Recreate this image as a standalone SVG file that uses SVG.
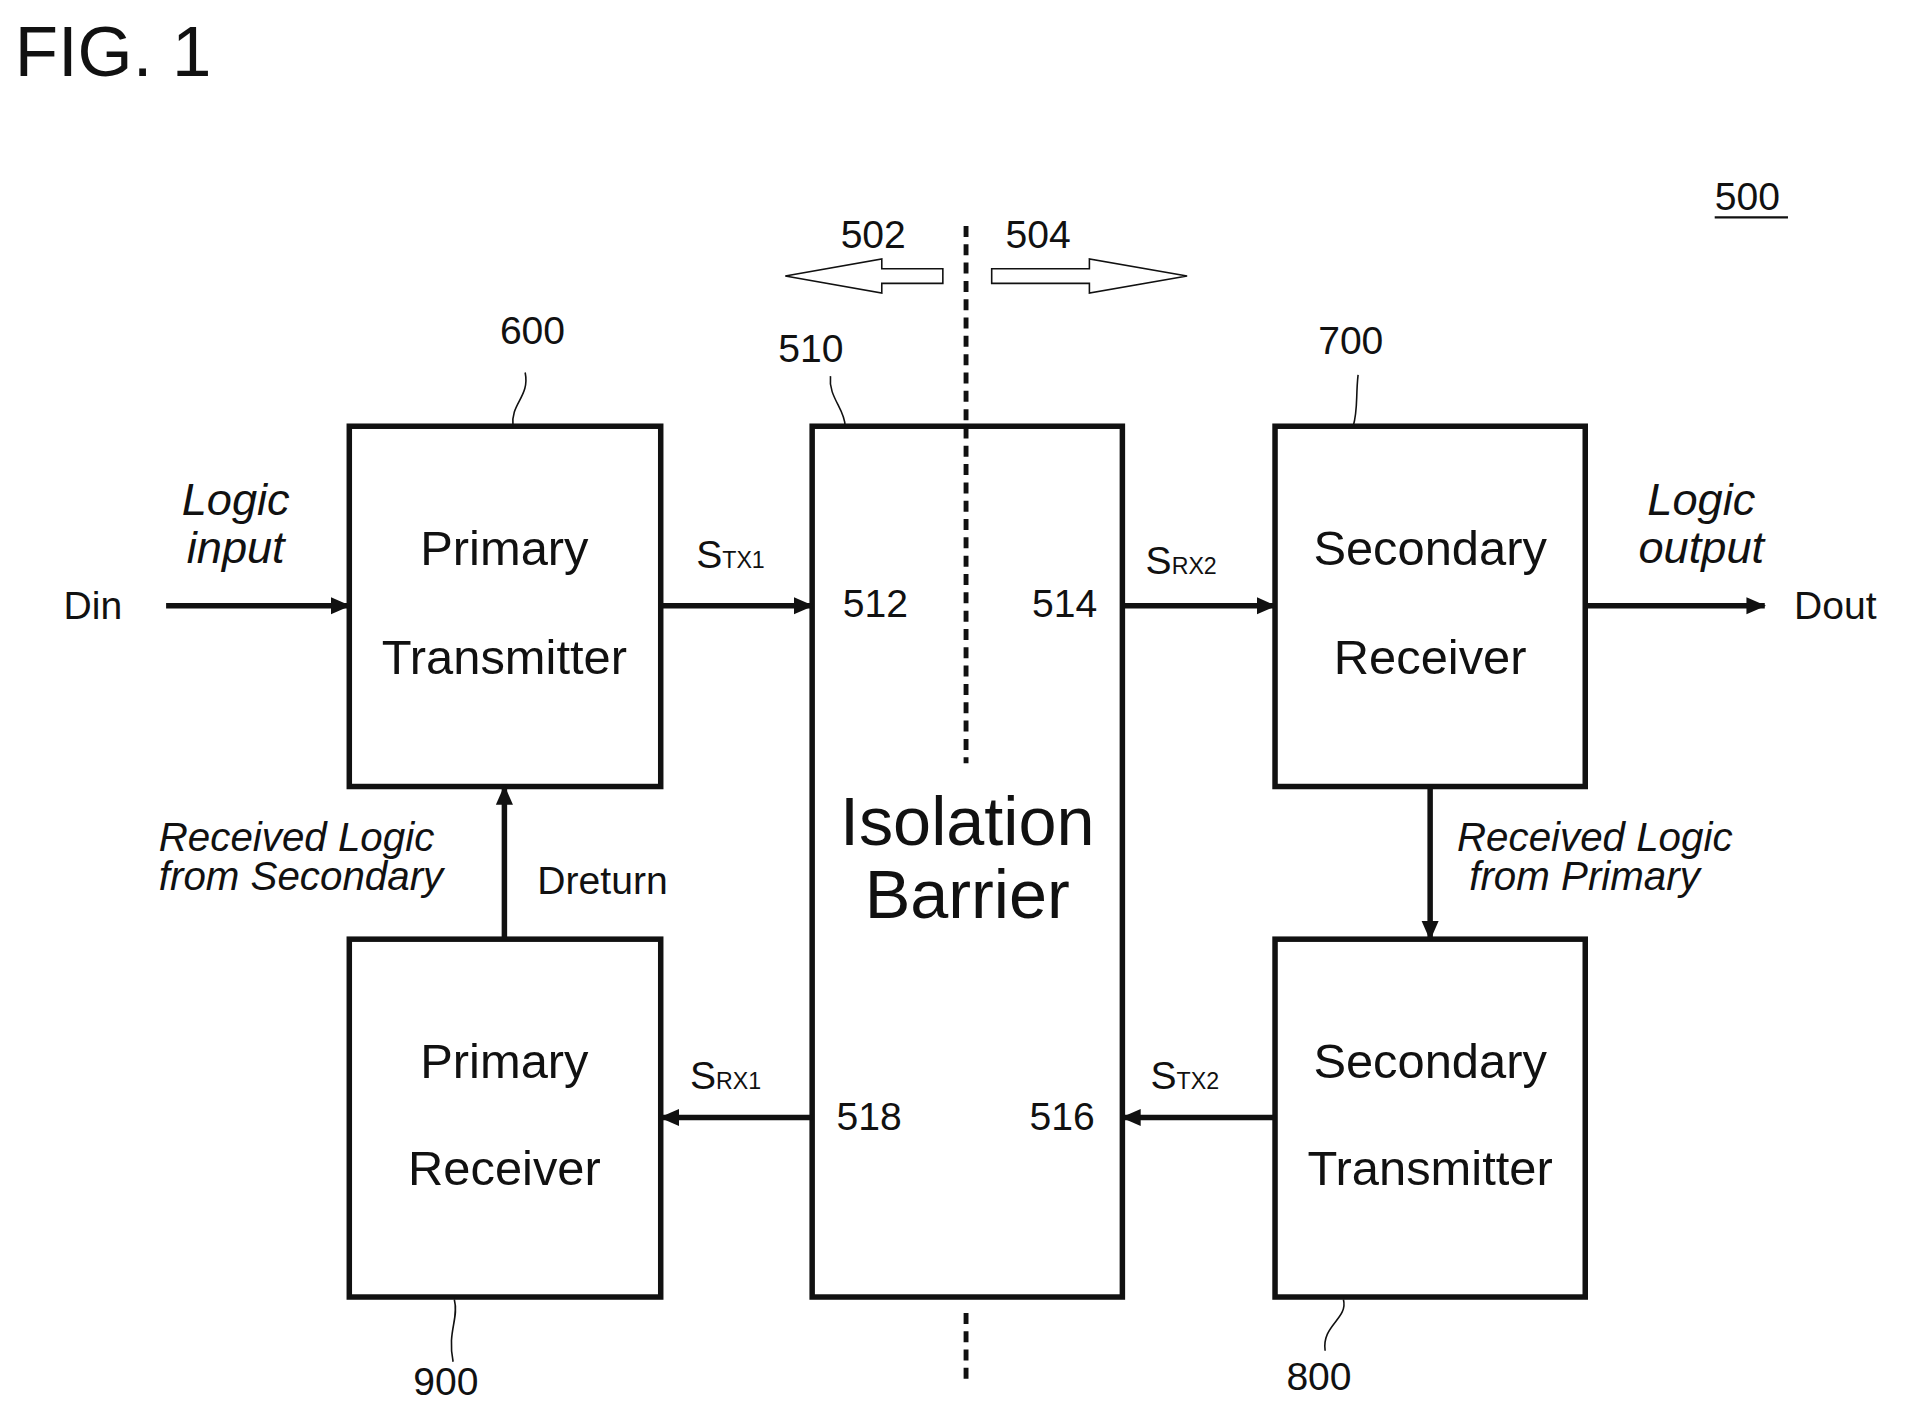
<svg xmlns="http://www.w3.org/2000/svg" width="1915" height="1415" viewBox="0 0 1915 1415">
<defs>
<style>
text{font-family:"Liberation Sans",Arial,sans-serif;fill:#111}
.box{fill:#fff;stroke:#111;stroke-width:4.5}
.lbl{font-size:40px;text-anchor:middle}
.num{font-size:32px}
.it{font-style:italic;font-size:33px}
.w{stroke:#111;stroke-width:4.5;fill:none}
.thin{stroke:#111;stroke-width:1.3;fill:none}
.sub{font-size:19px}
</style>
<marker id="ah" markerWidth="16" markerHeight="16" refX="15" refY="8" orient="auto" markerUnits="userSpaceOnUse" viewBox="0 0 16 16">
<path d="M0,1 L16,8 L0,15 Z" fill="#111"/>
</marker>
</defs>
<rect width="1915" height="1415" fill="#fff"/>
<g transform="scale(1.2213)">
<text x="12" y="62" font-size="58">FIG. 1</text>
<text x="1404" y="172" class="num">500</text>
<line x1="1404" y1="178" x2="1464" y2="178" stroke="#111" stroke-width="2"/>
<text x="715" y="203" class="num" text-anchor="middle">502</text>
<text x="850" y="203" class="num" text-anchor="middle">504</text>
<path class="thin" d="M772,220 L722,220 L722,212 L643,226 L722,240 L722,232 L772,232 Z"/>
<path class="thin" d="M812,220 L892,220 L892,212 L972,226 L892,240 L892,232 L812,232 Z"/>
<g id="barrier">
<rect class="box" x="665" y="349" width="254" height="713"/>
<text x="792" y="692" font-size="56" text-anchor="middle">Isolation</text>
<text x="792" y="752" font-size="56" text-anchor="middle">Barrier</text>
<text x="690" y="505" class="num">512</text>
<text x="845" y="505" class="num">514</text>
<text x="685" y="925" class="num">518</text>
<text x="843" y="925" class="num">516</text>
</g>
<g id="divider">
<line x1="791" y1="185" x2="791" y2="625" stroke="#111" stroke-width="4" stroke-dasharray="9,6"/>
<line x1="791" y1="1075" x2="791" y2="1132" stroke="#111" stroke-width="4" stroke-dasharray="9,6"/>
</g>
<g id="ptx">
<rect class="box" x="286" y="349" width="255" height="295"/>
<text x="413" y="463" class="lbl">Primary</text>
<text x="413" y="552" class="lbl">Transmitter</text>
</g>
<g id="srx">
<rect class="box" x="1044" y="349" width="254" height="295"/>
<text x="1171" y="463" class="lbl">Secondary</text>
<text x="1171" y="552" class="lbl">Receiver</text>
</g>
<g id="prx">
<rect class="box" x="286" y="769" width="255" height="293"/>
<text x="413" y="883" class="lbl">Primary</text>
<text x="413" y="970" class="lbl">Receiver</text>
</g>
<g id="stx">
<rect class="box" x="1044" y="769" width="254" height="293"/>
<text x="1171" y="883" class="lbl">Secondary</text>
<text x="1171" y="970" class="lbl">Transmitter</text>
</g>
<g id="connectors">
<line class="w" x1="136" y1="496" x2="286" y2="496" marker-end="url(#ah)"/>
<line class="w" x1="541" y1="496" x2="665" y2="496" marker-end="url(#ah)"/>
<line class="w" x1="919" y1="496" x2="1044" y2="496" marker-end="url(#ah)"/>
<line class="w" x1="1298" y1="496" x2="1445" y2="496" marker-end="url(#ah)"/>
<line class="w" x1="665" y1="915" x2="541" y2="915" marker-end="url(#ah)"/>
<line class="w" x1="1044" y1="915" x2="919" y2="915" marker-end="url(#ah)"/>
<line class="w" x1="413" y1="769" x2="413" y2="644" marker-end="url(#ah)"/>
<line class="w" x1="1171" y1="644" x2="1171" y2="769" marker-end="url(#ah)"/>
<path class="thin" d="M430,305 C434,325 418,330 420,349"/>
<path class="thin" d="M680,308 C678,325 692,335 692,349"/>
<path class="thin" d="M1112,307 C1110,325 1112,335 1108,349"/>
<path class="thin" d="M372,1064 C376,1080 366,1090 371,1115"/>
<path class="thin" d="M1100,1064 C1104,1080 1082,1085 1085,1106"/>
</g>
<text x="436" y="282" class="num" text-anchor="middle">600</text>
<text x="664" y="296" class="num" text-anchor="middle">510</text>
<text x="1106" y="290" class="num" text-anchor="middle">700</text>
<text x="365" y="1142" class="num" text-anchor="middle">900</text>
<text x="1080" y="1138" class="num" text-anchor="middle">800</text>
<text x="52" y="507" class="num">Din</text>
<text x="1469" y="507" class="num">Dout</text>
<text x="193" y="422" class="it" text-anchor="middle" style="font-size:37px">Logic</text>
<text x="193" y="461" class="it" text-anchor="middle" style="font-size:37px">input</text>
<text x="1393" y="422" class="it" text-anchor="middle" style="font-size:37px">Logic</text>
<text x="1393" y="461" class="it" text-anchor="middle" style="font-size:37px">output</text>
<text x="570" y="465" font-size="32">S<tspan class="sub">TX1</tspan></text>
<text x="938" y="470" font-size="32">S<tspan class="sub">RX2</tspan></text>
<text x="565" y="892" font-size="32">S<tspan class="sub">RX1</tspan></text>
<text x="942" y="892" font-size="32">S<tspan class="sub">TX2</tspan></text>
<text x="130" y="697" class="it">Received Logic</text>
<text x="130" y="729" class="it">from Secondary</text>
<text x="440" y="732" class="num">Dreturn</text>
<text x="1193" y="697" class="it">Received Logic</text>
<text x="1203" y="729" class="it">from Primary</text>
</g>
</svg>
